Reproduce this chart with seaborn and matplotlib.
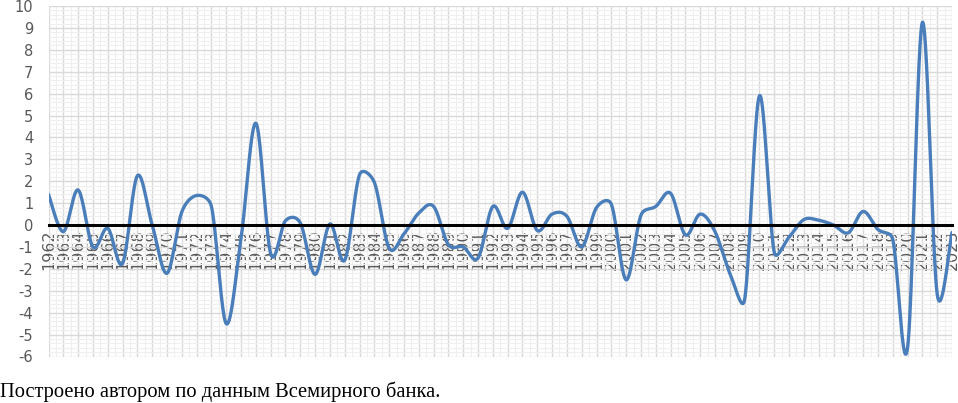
import numpy as np
import pandas as pd
import matplotlib
matplotlib.use('Agg')
import matplotlib.pyplot as plt
from matplotlib.ticker import MultipleLocator
import seaborn as sns

# Données (variation annuelle, %)
years = list(range(1962, 2024))
values = [1.4, -0.3, 1.6, -1.0, -0.15, -1.75, 2.25, 0.0, -2.2, 0.6,
          1.35, 0.85, -4.5, -0.6, 4.65, -1.3, 0.2, 0.1, -2.25, 0.05,
          -1.6, 2.3, 1.95, -1.05, -0.4, 0.55, 0.85, -0.9, -1.0, -1.5,
          0.85, -0.15, 1.5, -0.25, 0.5, 0.4, -1.0, 0.8, 0.95, -2.5,
          0.45, 0.85, 1.45, -0.45, 0.5, -0.3, -2.2, -3.4, 5.9, -1.25,
          -0.55, 0.25, 0.22, 0.0, -0.35, 0.62, -0.2, -0.65, -5.6, 9.25,
          -3.15, -0.34]
caption = 'Построено автором по данным Всемирного банка.'

df = pd.DataFrame({'pos': np.arange(len(years)), 'value': values})

# Courbe lissée façon Excel : Bézier avec points de contrôle limités
# (calcul des distances dans l'espace pixel du graphique)
px_x, px_y = 14.8, 21.9
P = np.column_stack([df['pos'] * px_x, df['value'] * px_y]).astype(float)
Pe = np.vstack([P[0], P, P[-1]])
t = np.linspace(0, 1, 40)[:, None]
pts = []
for i in range(len(P) - 1):
    p0, p1, p2, p3 = Pe[i], Pe[i + 1], Pe[i + 2], Pe[i + 3]
    d02 = np.hypot(*(p2 - p0))
    d12 = np.hypot(*(p2 - p1))
    d13 = np.hypot(*(p3 - p1))
    f = 1 / 6 if d02 / 6 < d12 / 2 else d12 / d02 / 2
    g = 1 / 6 if d13 / 6 < d12 / 2 else d12 / d13 / 2
    b1 = p1 + (p2 - p0) * f
    b2 = p2 - (p3 - p1) * g
    seg = (1 - t) ** 3 * p1 + 3 * (1 - t) ** 2 * t * b1 + 3 * (1 - t) * t ** 2 * b2 + t ** 3 * p2
    pts.append(seg)
pts = np.vstack(pts)
smooth = pd.DataFrame({'pos': pts[:, 0] / px_x, 'value': pts[:, 1] / px_y})

sns.set_theme(style='white')
plt.rcParams['font.family'] = ['DejaVu Sans']
plt.rcParams['axes.unicode_minus'] = False

fig = plt.figure(figsize=(9.58, 4.03), dpi=100)
ax = fig.add_axes([48.5 / 958, 1 - 356.5 / 403, (952 - 48.5) / 958, (356.5 - 6) / 403])

sns.lineplot(data=smooth, x='pos', y='value', sort=False, color='#4A7EBB',
             linewidth=2.4, ax=ax, zorder=3)

ax.set_xlim(0, len(years) - 1)
ax.set_ylim(-6, 10)

# Quadrillage principal et secondaire
ax.xaxis.set_major_locator(MultipleLocator(1))
ax.xaxis.set_minor_locator(MultipleLocator(0.5))
ax.yaxis.set_major_locator(MultipleLocator(1))
ax.yaxis.set_minor_locator(MultipleLocator(0.2))
ax.grid(which='major', color='#d9d9d9', linewidth=1.0)
ax.grid(which='minor', color='#efefef', linewidth=0.8)
ax.set_axisbelow(True)

ax.set_xticks(df['pos'])
ax.set_xticklabels([str(yr) for yr in years])

# Axe des abscisses sur la ligne zéro
for s in ['top', 'right', 'left']:
    ax.spines[s].set_visible(False)
ax.spines['bottom'].set_position(('data', 0))
ax.spines['bottom'].set_color('black')
ax.spines['bottom'].set_linewidth(2.2)
ax.spines['bottom'].set_zorder(4)

ax.tick_params(axis='x', which='both', length=0, pad=3, labelrotation=90,
               labelsize=11.5, labelcolor='#595959')
ax.tick_params(axis='y', which='both', length=0, pad=11,
               labelsize=10.5, labelcolor='#595959')
ax.set_xlabel('')
ax.set_ylabel('')

fig.text(0.0, 1 - 397 / 403, caption, fontsize=14.8, family='Liberation Serif',
         color='black', va='baseline', ha='left')

fig.savefig('out.png', dpi=100)
